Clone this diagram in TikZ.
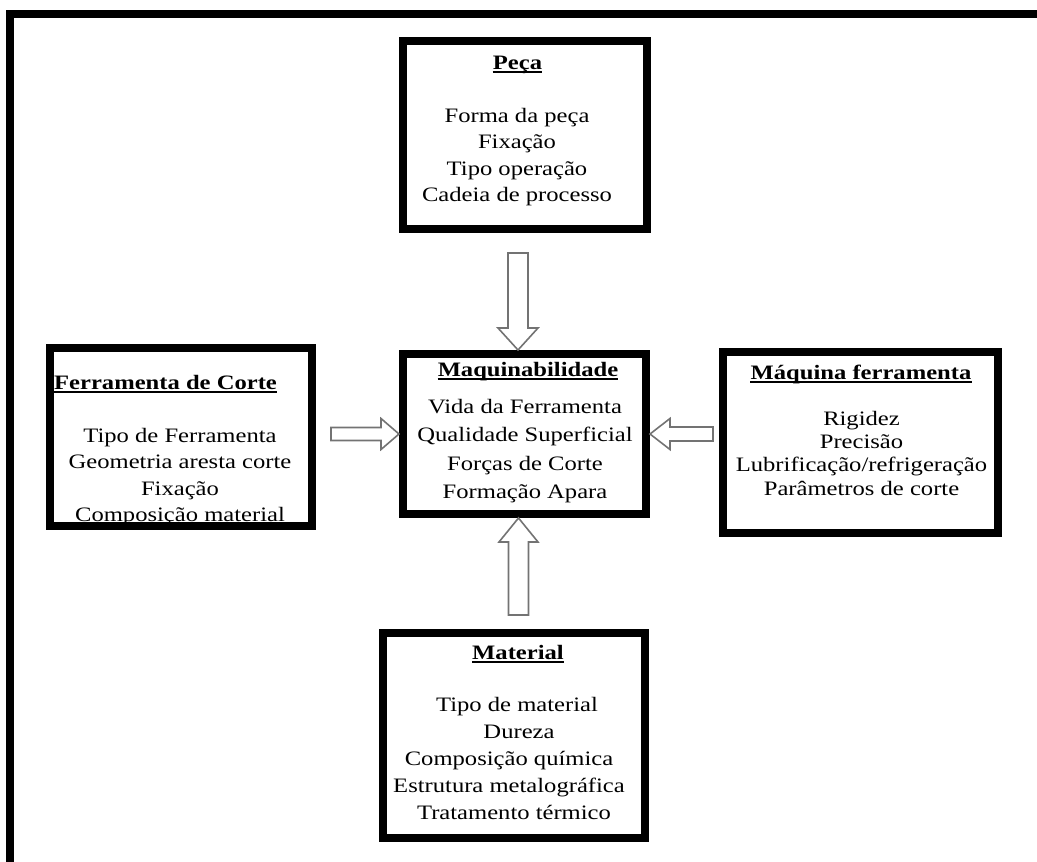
\documentclass[tikz,border=0pt]{standalone}
\usepackage{fontspec}
\setmainfont{Liberation Serif}[FakeStretch=1.2]
\usetikzlibrary{calc}
\tikzset{
  box/.style={draw, line width=8pt, rectangle, inner sep=0pt, outer sep=4pt},
  ttl/.style={font=\fontsize{20.5}{25}\selectfont\bfseries, inner sep=0pt, anchor=base},
  txt/.style={font=\fontsize{20.5}{25}\selectfont, inner sep=0pt, anchor=base},
  uline/.style={line width=1.4pt},
  blockarrow/.style={draw=black!55, line width=1.6pt, fill=white, line join=miter},
  frame/.style={line width=8pt, line join=miter},
}
\begin{document}
\begin{tikzpicture}[x=1pt,y=-1pt]
\useasboundingbox (0,0) rectangle (1037,862);

% page frame (top and left edges)
\begin{scope}
  \clip (0,0) rectangle (1037,862);
  \draw[frame] (10,900) -- (10,14) -- (1060,14);
\end{scope}

% ---- Peça
\node[ttl] (tPeca) at (517.5,69) {Peça};
\foreach \t [count=\i] in {Forma da peça, Fixação, Tipo operação, Cadeia de processo}
  \node[txt] (peca\i) at (517,{122+26.6*(\i-1)}) {\t};

% ---- Maquinabilidade
\node[ttl] (tMaq) at (528,376) {Maquinabilidade};
\foreach \t [count=\i] in {Vida da Ferramenta, Qualidade Superficial, Forças de Corte, Formação Apara}
  \node[txt] (maq\i) at (525,{413+28.5*(\i-1)}) {\t};

% ---- Ferramenta de Corte
\node[ttl, anchor=base west] (tFer) at (54,389) {Ferramenta de Corte};
\foreach \t [count=\i] in {Tipo de Ferramenta, Geometria aresta corte, Fixação, Composição material}
  \node[txt] (fer\i) at (180,{442+26.6*(\i-1)}) {\t};

% ---- Máquina ferramenta
\node[ttl] (tMach) at (861,379) {Máquina ferramenta};
\foreach \t [count=\i] in {Rigidez, Precisão, Lubrificação/refrigeração, Parâmetros de corte}
  \node[txt] (mach\i) at (861.5,{425+23.4*(\i-1)}) {\t};

% ---- Material
\node[ttl] (tMat) at (518,659) {Material};
\node[txt] (mat1) at (517,711) {Tipo de material};
\node[txt] (mat2) at (519,738) {Dureza};
\node[txt] (mat3) at (509,765) {Composição química};
\node[txt] (mat4) at (509,792) {Estrutura metalográfica};
\node[txt] (mat5) at (514,819) {Tratamento térmico};

% title underlines
\foreach \n in {tPeca,tMaq,tFer,tMach,tMat}
  \draw[uline] ($(\n.base west)+(0,3)$) -- ($(\n.base east)+(0,3)$);

% ---- boxes
\node[box, minimum width=244pt, minimum height=188pt] (peca) at (525,135) {};
\node[box, minimum width=243pt, minimum height=160pt] (maq)  at (524.5,434) {};
\node[box, minimum width=262pt, minimum height=178pt] (fer)  at (181,437) {};
\node[box, minimum width=275pt, minimum height=181pt] (mach) at (860.5,442.5) {};
\node[box, minimum width=262pt, minimum height=205pt] (mat)  at (514,735.5) {};

% ---- block arrows into the central box
% from Peça (pointing down)
\coordinate (aT) at ($(peca.south)+(-7,20)$);
\coordinate (aP) at ($(maq.north)+(-6.5,0)$);
\draw[blockarrow] ($(aT)+(-10,0)$) -- ($(aT)+(10,0)$) -- ($(aP)+(10,-22)$) -- ($(aP)+(20,-22)$)
  -- (aP) -- ($(aP)+(-20,-22)$) -- ($(aP)+(-10,-22)$) -- cycle;
% from Material (pointing up)
\coordinate (bT) at ($(mat.north)+(4.5,-14)$);
\coordinate (bP) at ($(maq.south)+(-6,0)$);
\draw[blockarrow] ($(bT)+(-10,0)$) -- ($(bT)+(10,0)$) -- ($(bP)+(10,24)$) -- ($(bP)+(19.5,24)$)
  -- (bP) -- ($(bP)+(-19.5,24)$) -- ($(bP)+(-10,24)$) -- cycle;
% from Ferramenta de Corte (pointing right)
\coordinate (cT) at ($(fer.east |- maq.west)+(15,0)$);
\coordinate (cP) at (maq.west);
\draw[blockarrow] ($(cT)+(0,-6.5)$) -- ($(cT)+(0,6.5)$) -- ($(cP)+(-18,6.5)$) -- ($(cP)+(-18,15.5)$)
  -- (cP) -- ($(cP)+(-18,-15.5)$) -- ($(cP)+(-18,-6.5)$) -- cycle;
% from Máquina ferramenta (pointing left)
\coordinate (dT) at ($(mach.west |- maq.east)+(-6,0)$);
\coordinate (dP) at (maq.east);
\draw[blockarrow] ($(dT)+(0,-7)$) -- ($(dT)+(0,7)$) -- ($(dP)+(20,7)$) -- ($(dP)+(20,15.5)$)
  -- (dP) -- ($(dP)+(20,-15.5)$) -- ($(dP)+(20,-7)$) -- cycle;
\end{tikzpicture}
\end{document}
